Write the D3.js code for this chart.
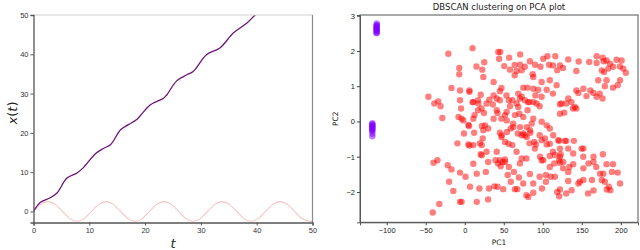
<!DOCTYPE html>
<html>
<head>
<meta charset="utf-8">
<script src="https://cdn.jsdelivr.net/npm/d3@7"></script>
<style>
  body { margin: 0; background: #fff; }
  svg { font-family: "DejaVu Sans", sans-serif; }
</style>
</head>
<body>
<svg id="fig" width="640" height="250"></svg>
<script>
// ---- left panel data: x(t) and the oscillating term ----
var tPath = [0, 1.2, 3, 4.2, 6, 7.8, 8.9, 11.1, 12.6, 13.8, 15.6, 17, 18.5, 20.9, 23.3, 23.9, 25.7, 27.5, 28.6, 31, 33.4, 35.8, 38.2, 39.7, 41];
var xPath = [0, 2.3, 3.5, 4.7, 8.5, 9.8, 11.1, 14.7, 16.1, 17.0, 20.8, 22.1, 23.4, 27.1, 28.8, 29.7, 33.3, 34.8, 35.6, 39.9, 41.6, 45.4, 47.9, 50, 52];

var tWave = [0, 1.3, 2.6, 3.9, 5.2, 6.5, 7.8, 9.1, 10.4, 11.7, 13, 14.3, 15.6, 16.9, 18.2, 19.5, 20.8, 22.1, 23.4, 24.7, 26, 27.3, 28.6, 29.9, 31.2, 32.5, 33.8, 35.1, 36.4, 37.7, 39, 40.3, 41.6, 42.9, 44.2, 45.5, 46.8, 48.1, 49.4, 50];
var xWave = [0, 1.8, 2.5, 1.8, 0, -1.8, -2.5, -1.8, 0, 1.8, 2.5, 1.8, 0, -1.8, -2.5, -1.8, 0, 1.8, 2.5, 1.8, 0, -1.8, -2.5, -1.8, 0, 1.8, 2.5, 1.8, 0, -1.8, -2.5, -1.8, 0, 1.8, 2.5, 1.8, 0, -1.8, -2.5, -2.4];

var leftXTicks = [0, 10, 20, 30, 40, 50];
var leftYTicks = [0, 10, 20, 30, 40, 50];

// ---- right panel data: PCA scores, noise/cluster points ----
var pc1Red = [-21, 10, -7, -7, 15, 22.5, 25, 23.8, -17, -6, 37, 44, 43, 45.5, 57, 50.7, 58, 64, 71, 71,
  66.5, 73, 77, 83.5, 87, 90, 97, 100.6, 106, 108, 113, 116, 118.5, 122, 126, 132.6, 143, 146, 159.5, 169,
  169, 176.6, 178, 181.7, 186, 190, 194.5, 201, 203, 206.4, 198.8, 184, 175.6, 178.5, 64, 87.8, 75, 80.5, 88, 94,
  98.5, 109, 117.7, 113, 98.5, 96, 88, 81, 73, 68.6, 61, 68.6, 70, 75, 80.5, 83, 90.5, 105, 122, 124,
  132.6, 143, 145.6, 152, 156, 161, 165, 169, 173, 176.6, 179.5, 171, 181.7, 190, 196, 199, 141, 138.6, 143, 130,
  127.5, 136.7, 37, 45, 47, 20.5, 17, 11, -6, 6, 6, 31.5, 36, 53.5, 56.5, 41, 42, 53.7, 58, 21.6,
  17, 12.5, 24.6, 37, 47, 28, -4.7, -8, -4, -28.7, -31, -34, -39, -46.6, 10,
  4.7, 5.5, -1, -9.4, 4.7, 6, 12, 22, 30, 19.5, 23, 20.5, 28, 41, 59, 62, 73, 75, 79.4, 83,
  89, 91, 96, 105, 109, 113, 121, 122.8, 128.3, 130, 139.8, 139, 152, 165, 177, 45, 47, 54, 56, 84,
  68, 66.4, 61,
  -35, -40, -21.8, -17, -20, -14.6, -6, 1, -4, -6, 15.4, -32.6, -41, 6.8, 15.4, 18.8, 27, 30, 31, 37.9,
  42, 49.4, 46, 48.5, 51.5, 42.7, 39.4, 56.6, 55, 63, 59, 64.3, 67.3, 69.4, 70.7, 79, 83.5, 75, 87.8, 79,
  81.5, 87.8, 96, 99, 104, 104, 110, 115.5, 118.5, 121, 122, 114.7, 121, 122, 115.5, 126, 132.6, 134, 139, 130,
  137, 132.6, 145.6, 147.5, 152, 158, 152, 158.6, 163, 165, 168.5, 165, 173.4, 175.6, 179.5, 181.7, 190, 184.6, 186.6, 182,
  188.6, 196, 199, 177.6, 11, 98.5, 109,
  11, 41, 45, 51.6, 53.8, 62.2, 23.8, 21.8, 11, 47.4, 51.6, 77, 83.6, 79.4, 70.8, 85.8, 87.8, 64.4, 66.6, 77,
  70.8, 92, 98.6, 105, 109, 98.6, 102.8, 89.8, 109, 113.4, 119.8, 122, 132.6, 149.7, 151.9, 122, 126.2, 96.4, 100.6, 73,
  45, 51.6, 30, 21.8, 122, -1.8, 17.4, 26];
var pc2Red = [1.92, 2.08, 1.52, 1.34, 1.56, 1.47, 1.68, 1.26, 0.95, 0.88, 1.12, 1.78, 1.97, 1.97, 1.81, 1.57, 1.47, 1.6, 1.61, 1.9,
  1.43, 1.45, 1.55, 1.71, 1.34, 1.61, 1.55, 1.78, 1.85, 1.61, 1.59, 1.85, 1.45, 1.59, 1.52, 1.76, 1.43, 1.7, 1.69, 1.85,
  1.66, 1.81, 1.71, 1.73, 1.64, 1.55, 1.75, 1.73, 1.5, 1.38, 1.56, 1.5, 1.45, 1.4, 1.31, 1.26, 0.96, 0.96, 0.93, 0.9,
  1.12, 1.17, 1.03, 0.79, 0.7, 0.43, 0.55, 0.55, 0.7, 0.79, 0.6, 0.41, 0.22, 0.13, 0.32, 0.55, 0.74, 0.9, 0.49, 0.51,
  0.65, 0.88, 0.81, 0.93, 0.72, 0.88, 0.81, 0.7, 0.79, 0.65, 1.0, 1.17, 1.17, 0.96, 1.03, 1.17, 0.41, 0.37, 0.37, 0.51,
  0.25, 0.55, 0.74, 0.86, 0.95, 0.76, 0.6, 0.55, 0.6, 0.84, 0.88, 0.62, 0.48, 0.74, 0.6, 0.32, 0.24, 0.27, 0.43, 0.37,
  0.32, 0.18, 0.24, 0.08, 0.08, 0.51, 0.37, 0.13, 0.08, 0.1, 0.43, 0.57, 0.51, 0.7, 0.55,
  -0.1, -0.13, -0.34, -0.62, -0.65, -0.68, -0.32, -0.13, -0.2, -0.62, -0.48, -0.93, -0.86, -0.86, -0.2, -0.06, -0.39, -0.34, -0.44, -0.62,
  -0.58, -0.65, -0.39, -0.65, -0.98, -0.86, -0.55, -0.93, -0.55, -0.55, -0.55, -0.91, -0.77, -1.0, -0.93, -0.32, -0.44, -0.3, -0.63, -0.32,
  -0.34, -0.86, -0.67,
  -1.1, -1.17, -1.24, -1.36, -1.71, -1.97, -1.45, -1.57, -2.28, -2.28, -2.28, -2.34, -2.58, -1.85, -1.48, -1.9, -1.43, -2.21, -1.9, -1.84,
  -1.85, -1.92, -1.27, -1.15, -1.08, -1.19, -1.1, -1.29, -1.52, -1.43, -1.71, -1.92, -1.92, -1.59, -1.19, -1.05, -1.49, -1.76, -1.76, -2.09,
  -2.14, -2.02, -1.57, -1.9, -1.52, -1.71, -1.57, -1.57, -2.0, -2.12, -1.93, -1.19, -1.1, -1.17, -0.95, -1.33, -1.43, -1.29, -1.21, -2.04,
  -1.95, -1.69, -1.76, -1.71, -1.66, -2.04, -1.33, -1.19, -1.66, -1.96, -1.29, -1.15, -1.48, -1.66, -1.71, -1.21, -1.21, -1.85, -1.95, -1.93,
  -1.43, -1.45, -1.76, -1.48, -1.2, -1.1, -1.29,
  0.08, 0.65, 0.6, 0.18, 0.03, -0.16, -0.25, -0.67, -0.67, -0.39, -0.58, -0.39, -0.25, -0.16, -0.16, -0.06, 0.08, 0.18, 0.51, 0.6,
  0.65, 0.51, -0.01, -0.11, -0.2, -0.53, -0.48, -0.77, -0.63, -0.39, -0.53, -0.77, -0.77, -0.77, -1.0, -1.0, -1.15, -1.0, -1.1, -1.05,
  -1.1, -1.15, -1.15, -0.96, 0.22, 0.03, 0.51, -0.11];

var pc1Purple = [-112.8, -112.5, -113.2, -112.9, -113.0, -112.6, -113.1, -112.8, -112.7, -113.0, -112.9, -112.8,
  -118.4, -118.2, -118.6, -118.3, -118.5, -118.4, -118.2, -118.6, -118.4, -118.5, -118.3, -118.4];
var pc2Purple = [2.78, 2.74, 2.7, 2.67, 2.64, 2.62, 2.6, 2.57, 2.55, 2.52, 2.5, 2.72,
  -0.05, -0.08, -0.1, -0.13, -0.15, -0.17, -0.2, -0.22, -0.25, -0.28, -0.35, -0.42];

var rightXTicks = [-100, -50, 0, 50, 100, 150, 200];
var rightYTicks = [-2, -1, 0, 1, 2, 3];

var svg = d3.select('#fig');
var fmt = function(d) { return d < 0 ? '\u2212' + Math.abs(d) : String(d); };

// ================= left panel =================
var L = { x0: 33.5, x1: 312.5, y0: 15, y1: 222.5 };
var lx = d3.scaleLinear().domain([0, 50]).range([L.x0, L.x1]);
var ly = d3.scaleLinear().domain([-2.8, 50]).range([L.y1, L.y0]);

var left = svg.append('g');
left.append('clipPath').attr('id', 'clipL')
  .append('rect').attr('x', L.x0).attr('y', L.y0).attr('width', L.x1 - L.x0).attr('height', L.y1 - L.y0);

var lineL = d3.line().x(function(d) { return lx(d[0]); }).y(function(d) { return ly(d[1]); })
  .curve(d3.curveNatural);

left.append('path')
  .datum(d3.zip(tWave, xWave))
  .attr('d', lineL)
  .attr('fill', 'none').attr('stroke', '#f7c4c4').attr('stroke-width', 1.1)
  .attr('clip-path', 'url(#clipL)');

left.append('path')
  .datum(d3.zip(tPath, xPath))
  .attr('d', lineL.curve(d3.curveCatmullRom))
  .attr('fill', 'none').attr('stroke', '#6c1577').attr('stroke-width', 1.3)
  .attr('clip-path', 'url(#clipL)');

// spines
left.append('line').attr('x1', L.x0).attr('x2', L.x1).attr('y1', L.y0).attr('y2', L.y0)
  .attr('stroke', '#cfcfcf').attr('stroke-width', 1);
left.append('line').attr('x1', L.x1).attr('x2', L.x1).attr('y1', L.y0).attr('y2', L.y1)
  .attr('stroke', '#8a8a8a').attr('stroke-width', 1.2);

var lxAxis = left.append('g').attr('transform', 'translate(0,' + L.y1 + ')')
  .call(d3.axisBottom(lx).tickValues(leftXTicks).tickSize(3).tickPadding(2).tickFormat(fmt));
var lyAxis = left.append('g').attr('transform', 'translate(' + L.x0 + ',0)')
  .call(d3.axisLeft(ly).tickValues(leftYTicks).tickSize(3).tickPadding(2).tickFormat(fmt));

[lxAxis, lyAxis].forEach(function(a) {
  a.select('.domain').attr('stroke', '#555').attr('stroke-width', 1.3);
  a.selectAll('.tick line').attr('stroke', '#555');
  a.selectAll('.tick text').attr('fill', '#333').style('font-size', '7.5px');
});

left.append('text')
  .attr('transform', 'translate(17,113) rotate(-90)')
  .attr('text-anchor', 'middle')
  .style('font-size', '13px').attr('fill', '#222')
  .html('<tspan font-style="italic">x</tspan>(<tspan font-style="italic">t</tspan>)');

left.append('text')
  .attr('x', 173).attr('y', 248)
  .attr('text-anchor', 'middle')
  .style('font-size', '13px').style('font-style', 'italic').attr('fill', '#222')
  .text('t');

// ================= right panel =================
var R = { x0: 360, x1: 638, y0: 15, y1: 222.3 };
var rx = d3.scaleLinear().domain([-134.2, 222]).range([R.x0, R.x1]);
var ry = d3.scaleLinear().domain([-2.86, 3.02]).range([R.y1, R.y0]);

var right = svg.append('g');

right.selectAll('.noise')
  .data(d3.zip(pc1Red, pc2Red))
  .enter().append('circle')
  .attr('class', 'noise')
  .attr('cx', function(d) { return rx(d[0]); })
  .attr('cy', function(d) { return ry(d[1]); })
  .attr('r', 3.2)
  .attr('fill', '#ff0000').attr('fill-opacity', 0.5);

right.selectAll('.clus')
  .data(d3.zip(pc1Purple, pc2Purple))
  .enter().append('circle')
  .attr('class', 'clus')
  .attr('cx', function(d) { return rx(d[0]); })
  .attr('cy', function(d) { return ry(d[1]); })
  .attr('r', 3.2)
  .attr('fill', '#8000ff').attr('fill-opacity', 0.5);

right.append('rect')
  .attr('x', R.x0).attr('y', R.y0).attr('width', R.x1 - R.x0).attr('height', R.y1 - R.y0)
  .attr('fill', 'none').attr('stroke', '#555').attr('stroke-width', 1);

var rxAxis = right.append('g').attr('transform', 'translate(0,' + R.y1 + ')')
  .call(d3.axisBottom(rx).tickValues(rightXTicks).tickSize(3).tickPadding(2).tickFormat(fmt));
var ryAxis = right.append('g').attr('transform', 'translate(' + R.x0 + ',0)')
  .call(d3.axisLeft(ry).tickValues(rightYTicks).tickSize(3).tickPadding(2).tickFormat(fmt));

[rxAxis, ryAxis].forEach(function(a) {
  a.select('.domain').attr('stroke', '#555');
  a.selectAll('.tick line').attr('stroke', '#444');
  a.selectAll('.tick text').attr('fill', '#222').style('font-size', '7.5px');
});

right.append('text')
  .attr('x', (R.x0 + R.x1) / 2).attr('y', 10)
  .attr('text-anchor', 'middle')
  .style('font-size', '8.5px').attr('fill', '#222')
  .text('DBSCAN clustering on PCA plot');

right.append('text')
  .attr('x', (R.x0 + R.x1) / 2).attr('y', 245)
  .attr('text-anchor', 'middle')
  .style('font-size', '7.5px').attr('fill', '#222')
  .text('PC1');

right.append('text')
  .attr('transform', 'translate(338,' + ((R.y0 + R.y1) / 2) + ') rotate(-90)')
  .attr('text-anchor', 'middle')
  .style('font-size', '7.5px').attr('fill', '#222')
  .text('PC2');
</script>
</body>
</html>
